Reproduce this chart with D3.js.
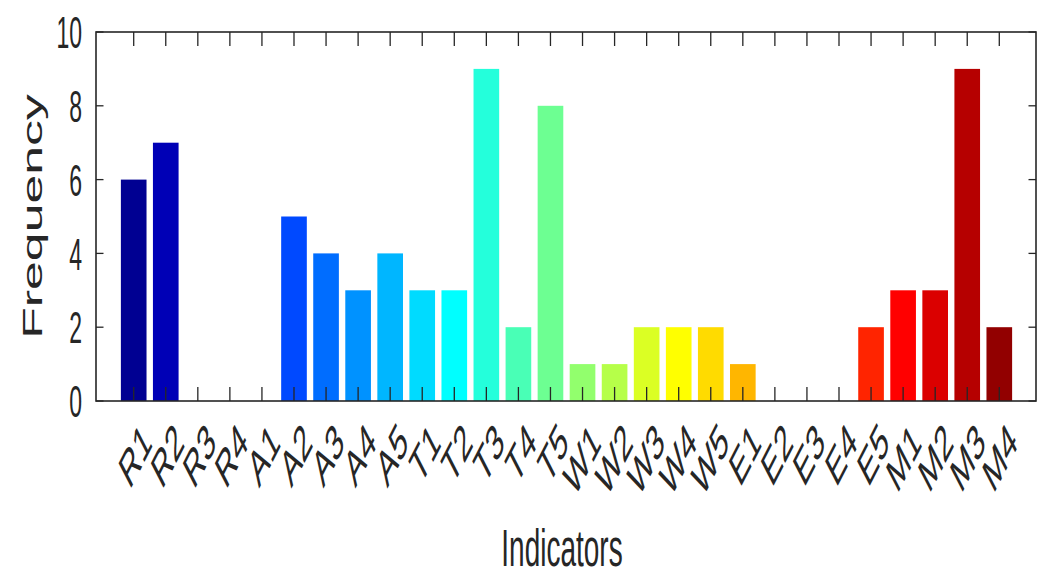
<!DOCTYPE html>
<html>
<head>
<meta charset="utf-8">
<script src="https://cdn.jsdelivr.net/npm/d3@7"></script>
<style>
  html, body { margin: 0; padding: 0; background: #fff; }
  svg { display: block; }
  text { font-family: "Liberation Sans", Arial, sans-serif; fill: #262626; }
</style>
</head>
<body>
<div id="chart"></div>
<script>
// ---------- data ----------
const indicators = ["R1","R2","R3","R4","A1","A2","A3","A4","A5","T1","T2","T3","T4","T5",
                    "W1","W2","W3","W4","W5","E1","E2","E3","E4","E5","M1","M2","M3","M4"];
const frequency  = [6, 7, 0, 0, 0, 5, 4, 3, 4, 3, 3, 9, 2, 8,
                    1, 1, 2, 2, 2, 1, 0, 0, 0, 2, 3, 3, 9, 2];
const yTicks = [0, 2, 4, 6, 8, 10];

// ---------- layout ----------
const W = 1051, H = 577;
const plot = { left: 96, right: 1036, top: 32, bottom: 401 };
const stretch = 1.95;         // the picture is squashed horizontally, text looks tall

// MATLAB jet(m) colormap
function jet(m) {
  const n = Math.ceil(m / 4);
  const u = [];
  for (let i = 1; i <= n; i++) u.push(i / n);
  for (let i = 1; i < n; i++) u.push(1);
  for (let i = n; i >= 1; i--) u.push(i / n);
  const g0 = Math.ceil(n / 2) - (m % 4 === 1 ? 1 : 0);
  const J = Array.from({ length: m }, () => [0, 0, 0]);
  u.forEach((v, k) => {
    const g = g0 + k + 1, r = g + n, b = g - n;
    if (r >= 1 && r <= m) J[r - 1][0] = v;
    if (g >= 1 && g <= m) J[g - 1][1] = v;
    if (b >= 1 && b <= m) J[b - 1][2] = v;
  });
  return J.map(c => d3.rgb(c[0] * 255, c[1] * 255, c[2] * 255).formatHex());
}
const colors = jet(indicators.length);

const svg = d3.select("#chart").append("svg")
  .attr("width", W).attr("height", H);

const x = d3.scaleLinear().domain([-0.176, 29.145]).range([plot.left, plot.right]);
const y = d3.scaleLinear().domain([0, 10]).range([plot.bottom, plot.top]);
const step = x(2) - x(1);
const barW = step * 0.8;

// ---------- bars ----------
svg.append("g").selectAll("rect")
  .data(frequency.map((v, i) => ({ v, i })).filter(d => d.v > 0))
  .enter().append("rect")
  .attr("x", d => x(d.i + 1) - barW / 2)
  .attr("y", d => y(d.v))
  .attr("width", barW)
  .attr("height", d => y(0) - y(d.v))
  .attr("fill", d => colors[d.i]);

// ---------- ticks (inward, both sides) ----------
const tickLenX = 14, tickLenY = 7.5;
const ticks = svg.append("g").attr("stroke", "#262626").attr("stroke-width", 1.3);
indicators.forEach((c, i) => {
  const xx = x(i + 1);
  ticks.append("line").attr("x1", xx).attr("x2", xx).attr("y1", plot.bottom).attr("y2", plot.bottom - tickLenX);
  ticks.append("line").attr("x1", xx).attr("x2", xx).attr("y1", plot.top).attr("y2", plot.top + tickLenX);
});
yTicks.forEach(t => {
  const yy = y(t);
  ticks.append("line").attr("x1", plot.left).attr("x2", plot.left + tickLenY).attr("y1", yy).attr("y2", yy);
  ticks.append("line").attr("x1", plot.right).attr("x2", plot.right - tickLenY).attr("y1", yy).attr("y2", yy);
});

// box
svg.append("rect")
  .attr("x", plot.left).attr("y", plot.top)
  .attr("width", plot.right - plot.left).attr("height", plot.bottom - plot.top)
  .attr("fill", "none").attr("stroke", "#262626").attr("stroke-width", 1.6);

// ---------- tick labels ----------
svg.append("g").selectAll("text")
  .data(yTicks).enter().append("text")
  .attr("transform", d => `translate(82,${y(d)}) scale(1,${stretch})`)
  .attr("text-anchor", "end")
  .attr("dy", "0.36em")
  .style("font-size", "23px")
  .text(d => d);

svg.append("g").selectAll("text")
  .data(indicators).enter().append("text")
  .attr("transform", (d, i) => `translate(${x(i + 1) + 13},${plot.bottom + 31}) scale(1,${stretch}) rotate(-45)`)
  .attr("text-anchor", "end")
  .attr("dy", "0.36em")
  .style("font-size", "26px")
  .text(d => d);

// ---------- axis titles ----------
svg.append("text")
  .attr("transform", `translate(${(plot.left + plot.right) / 2 - 4},566) scale(1,1.82)`)
  .attr("text-anchor", "middle")
  .style("font-size", "28px")
  .text("Indicators");

svg.append("text")
  .attr("transform", `translate(42,${(plot.top + plot.bottom) / 2}) rotate(-90) scale(1.85,1)`)
  .attr("text-anchor", "middle")
  .style("font-size", "28px")
  .text("Frequency");
</script>
</body>
</html>
